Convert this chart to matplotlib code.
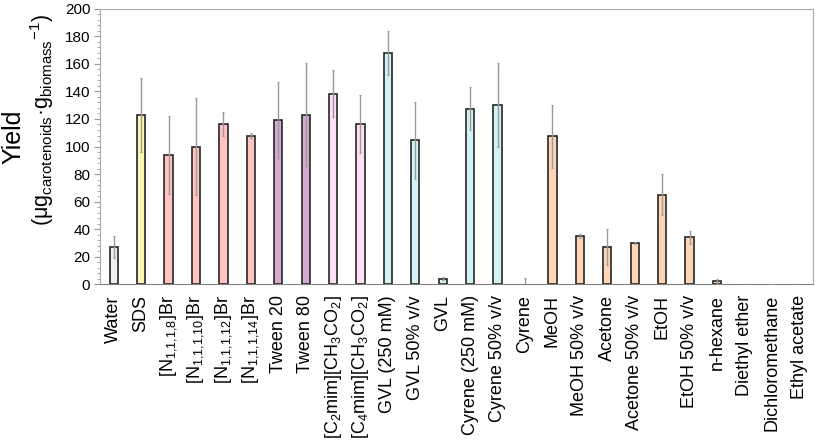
import matplotlib
matplotlib.use("Agg")
from matplotlib import pyplot as plt
from matplotlib.ticker import MultipleLocator
import numpy as np

plt.rcParams['font.family'] = ['Liberation Sans', 'DejaVu Sans']
plt.rcParams['mathtext.fontset'] = 'custom'
plt.rcParams['mathtext.rm'] = 'Liberation Sans'

labels = ['Water', 'SDS',
          r'[N$_{\mathregular{1{,}1{,}1{,}8}}$]Br', r'[N$_{\mathregular{1{,}1{,}1{,}10}}$]Br',
          r'[N$_{\mathregular{1{,}1{,}1{,}12}}$]Br', r'[N$_{\mathregular{1{,}1{,}1{,}14}}$]Br',
          'Tween 20', 'Tween 80',
          r'[C$_{\mathregular{2}}$mim][CH$_{\mathregular{3}}$CO$_{\mathregular{2}}$]',
          r'[C$_{\mathregular{4}}$mim][CH$_{\mathregular{3}}$CO$_{\mathregular{2}}$]',
          'GVL (250 mM)', 'GVL 50% v/v', 'GVL',
          'Cyrene (250 mM)', 'Cyrene 50% v/v', 'Cyrene',
          'MeOH', 'MeOH 50% v/v', 'Acetone', 'Acetone 50% v/v',
          'EtOH', 'EtOH 50% v/v', 'n-hexane', 'Diethyl ether',
          'Dichloromethane', 'Ethyl acetate']
yields = [27, 123, 94, 100, 116.5, 108, 119.5, 123, 138.5, 116.5,
          168, 104.5, 4, 127.5, 130.5, 0,
          107.5, 35, 27, 30, 65, 34, 2, 0, 0, 0]
errors = [8, 27, 28.5, 35, 8.5, 1.5, 27.5, 37.5, 17, 21,
          16, 28, 1, 15.5, 30.5, 4.4,
          22.8, 1.3, 13.4, 0.5, 15, 4.8, 1.7, 0, 0, 0]
colors = ['#efefef', '#fcf7b2'] + ['#ffc3c1'] * 4 + ['#d6a9d1'] * 2 + \
         ['#fde0f1'] * 2 + ['#d2f3f6'] * 6 + ['#ffd5b7'] * 10

fig = plt.figure(figsize=(8.17, 4.46), dpi=100)
ax = fig.add_axes([0.1224, 0.363, 0.8726, 0.617])
x = np.arange(len(labels))
# no outline for empty bars
lw = [1.2 if v > 0 else 0 for v in yields]
ax.bar(x, yields, width=0.3, color=colors, edgecolor='#262626', linewidth=lw, zorder=2)
ax.errorbar(x, yields, yerr=errors, fmt='none', ecolor='#9a9a9a', elinewidth=1,
            capsize=1, capthick=0.8, zorder=3)
ax.set_xlim(-0.5, len(labels) - 0.5)
ax.set_ylim(0, 200)
ax.yaxis.set_major_locator(MultipleLocator(20))
ax.yaxis.set_minor_locator(MultipleLocator(4))
ax.set_xticks(x)
ax.set_xticklabels(labels, rotation=90, fontsize=13)
ax.tick_params(axis='x', length=0, pad=8)
ax.tick_params(axis='y', which='major', length=4, labelsize=11, color='#999999', pad=3)
ax.tick_params(axis='y', which='minor', length=2, color='#999999')
for s in ax.spines.values():
    s.set_color('#aaaaaa')
ax.spines['bottom'].set_color('#808080')

fig.text(0.017, 0.693, 'Yield', rotation=90, ha='center', va='center', fontsize=18)
fig.text(0.051, 0.73,
         r'(μg$_{\mathregular{carotenoids}}$·g$_{\mathregular{biomass}}$$^{\mathregular{-1}}$)',
         rotation=90, ha='center', va='center', fontsize=15.5)

fig.savefig('out.png', dpi=100)
